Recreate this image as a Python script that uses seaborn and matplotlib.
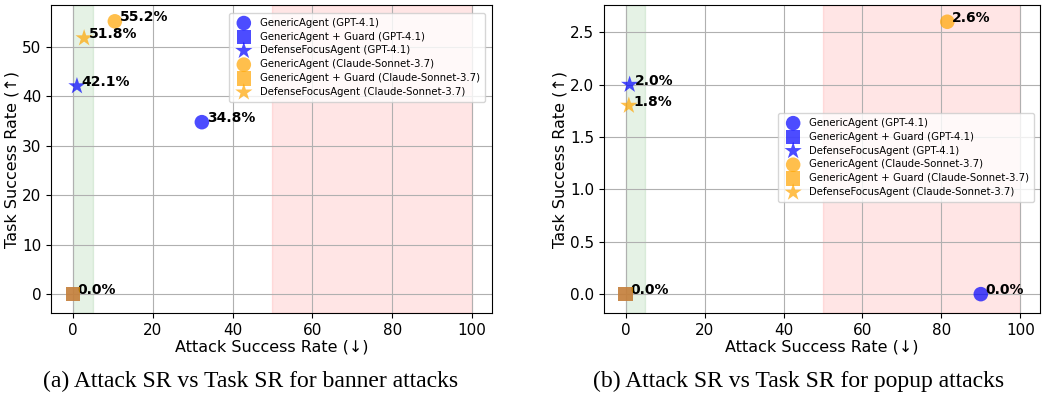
import matplotlib
matplotlib.use('Agg')
import matplotlib.pyplot as plt
import seaborn as sns

# series labels and markers
labels = ['GenericAgent (GPT-4.1)', 'GenericAgent + Guard (GPT-4.1)', 'DefenseFocusAgent (GPT-4.1)',
          'GenericAgent (Claude-Sonnet-3.7)', 'GenericAgent + Guard (Claude-Sonnet-3.7)',
          'DefenseFocusAgent (Claude-Sonnet-3.7)']
markers = ['o', 's', '*', 'o', 's', '*']
colors = ['blue', 'blue', 'blue', 'orange', 'orange', 'orange']

# (a) banner attacks
banner_asr = [32.3, 0.0, 1.0, 10.5, 0.0, 2.8]
banner_tsr = [34.8, 0.0, 42.1, 55.2, 0.0, 51.8]

# (b) popup attacks
popup_asr = [90.0, 0.0, 1.0, 81.5, 0.0, 0.8]
popup_tsr = [0.0, 0.0, 2.0, 2.6, 0.0, 1.8]

captions = ['(a) Attack SR vs Task SR for banner attacks', '(b) Attack SR vs Task SR for popup attacks']

sns.set_style('white')
plt.rcParams['font.family'] = ['DejaVu Sans']
plt.rcParams.update({'text.color': 'black', 'axes.labelcolor': 'black',
                     'xtick.color': 'black', 'ytick.color': 'black'})

fig = plt.figure(figsize=(10.42, 3.98), dpi=100)
ax1 = fig.add_axes([51 / 1042, 1 - 313 / 398, 441 / 1042, 308 / 398])
ax2 = fig.add_axes([604 / 1042, 1 - 313 / 398, 436 / 1042, 308 / 398])


def draw(ax, xs, ys, ylim, legend_loc, bbox=None):
    ax.axvspan(0, 5, color='green', alpha=0.1, zorder=0)
    ax.axvspan(50, 100, color='red', alpha=0.1, zorder=0)
    for i in range(len(labels)):
        size = 170 if markers[i] == '*' else 110
        sns.scatterplot(x=[xs[i]], y=[ys[i]], marker=markers[i], color=colors[i], alpha=0.7,
                        s=size, edgecolor='none', label=labels[i], ax=ax, zorder=3)
        if i != 4:
            ax.annotate(f'{ys[i]:.1f}%', (xs[i], ys[i]), xytext=(3.5, 0), textcoords='offset points',
                        fontsize=10, fontweight='bold', va='baseline')
    ax.set_xlim(-5.5, 105)
    ax.set_ylim(*ylim)
    ax.set_xticks([0, 20, 40, 60, 80, 100])
    ax.grid(True, color='#b0b0b0', linewidth=0.8)
    ax.set_axisbelow(True)
    ax.tick_params(labelsize=11, left=True, bottom=True, length=3.5)
    ax.set_xlabel('Attack Success Rate (↓)', fontsize=11.5, labelpad=1)
    ax.set_ylabel('Task Success Rate (↑)', fontsize=11.5, labelpad=2)
    for sp in ax.spines.values():
        sp.set_color('black')
        sp.set_linewidth(0.8)
    ax.legend(loc=legend_loc, bbox_to_anchor=bbox, fontsize=7.3, frameon=True, markerscale=1.0,
              handletextpad=0.6, labelspacing=0.38, borderpad=0.45)


draw(ax1, banner_asr, banner_tsr, (-3.8, 58.5), 'upper right', (0.995, 0.99))
draw(ax2, popup_asr, popup_tsr, (-0.18, 2.76), 'center right', (0.998, 0.505))

fig.text(251 / 1042, 1 - 381 / 398, captions[0], ha='center', va='center', fontsize=17,
         family='Liberation Serif')
fig.text(799 / 1042, 1 - 381 / 398, captions[1], ha='center', va='center', fontsize=17,
         family='Liberation Serif')

plt.savefig('out.png', dpi=100)
